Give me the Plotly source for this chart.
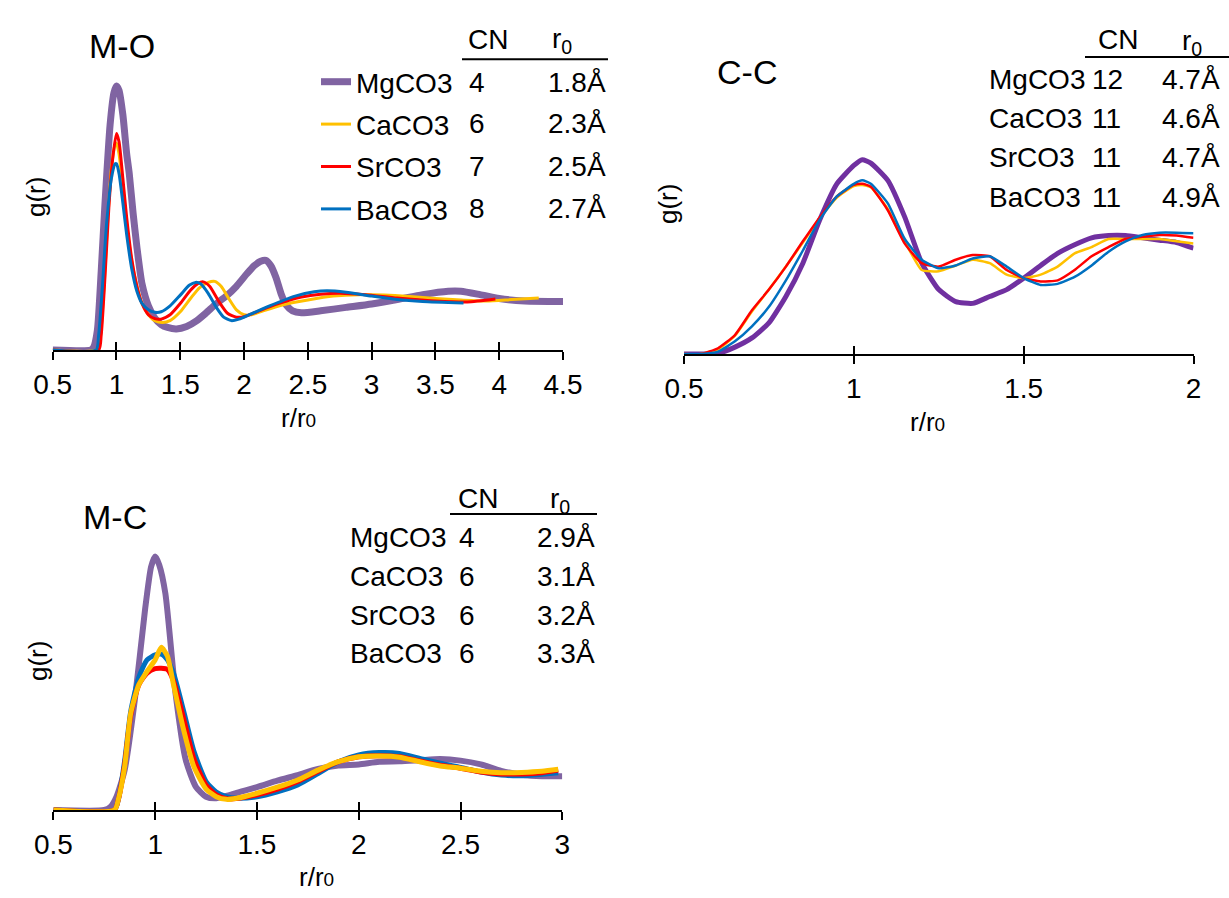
import plotly.graph_objects as go

W, H = 1229, 898
FONT = "Liberation Sans, Arial, sans-serif"

def px(x):
    return x / W

def py(y):
    return 1 - y / H

series = ["MgCO3", "CaCO3", "SrCO3", "BaCO3"]
colors = ["#8064A2", "#FFC000", "#FF0000", "#0070C0"]
cc_purple = "#7030A0"

# ---------------- M-O ----------------
mo_mg_r = [0.5, 0.8, 0.82, 0.85, 0.88, 0.91, 0.95, 0.98, 1.0, 1.02, 1.05, 1.08, 1.1, 1.13, 1.16, 1.2, 1.25, 1.3,
           1.35, 1.4, 1.47, 1.55, 1.63, 1.7, 1.78, 1.86, 1.94, 2.02, 2.08, 2.13, 2.17, 2.21, 2.25, 2.29, 2.33,
           2.38, 2.45, 2.6, 2.8, 3.0, 3.2, 3.4, 3.6, 3.7, 3.85, 4.0, 4.2, 4.5]
mo_mg_g = [0, 0, 0.05, 0.4, 1.6, 3.0, 4.6, 5.25, 5.39, 5.3, 4.8, 4.0, 3.6, 2.8, 2.1, 1.35, 0.9, 0.65,
           0.52, 0.46, 0.43, 0.48, 0.6, 0.75, 0.94, 1.1, 1.3, 1.55, 1.72, 1.81, 1.83, 1.72, 1.48, 1.15, 0.92,
           0.8, 0.76, 0.8, 0.87, 0.94, 1.03, 1.13, 1.2, 1.2, 1.13, 1.05, 1.0, 0.99]

mo_ca_r = [0.5, 0.84, 0.87, 0.9, 0.93, 0.96, 0.99, 1.0, 1.02, 1.05, 1.08, 1.12, 1.16, 1.2, 1.25, 1.3, 1.36,
           1.42, 1.5, 1.58, 1.65, 1.72, 1.77, 1.82, 1.88, 1.94, 2.0, 2.06, 2.15, 2.3, 2.5, 2.7, 2.9, 3.1,
           3.3, 3.5, 3.7, 3.9, 4.1, 4.31]
mo_ca_g = [0, 0, 0.2, 1.2, 2.6, 3.7, 4.2, 4.22, 4.0, 3.3, 2.55, 1.8, 1.3, 0.95, 0.72, 0.6, 0.56,
           0.6, 0.78, 1.05, 1.27, 1.38, 1.4, 1.3, 1.05, 0.82, 0.72, 0.72, 0.8, 0.92, 1.02, 1.1, 1.13, 1.12,
           1.09, 1.05, 1.02, 1.0, 1.03, 1.06]

mo_sr_r = [0.5, 0.86, 0.88, 0.91, 0.94, 0.97, 1.0, 1.02, 1.05, 1.08, 1.12, 1.16, 1.2, 1.25, 1.3, 1.35, 1.42,
           1.5, 1.58, 1.64, 1.68, 1.73, 1.8, 1.87, 1.94, 2.0, 2.1, 2.25, 2.45, 2.6, 2.75, 2.95, 3.2, 3.5,
           3.75, 3.97]
mo_sr_g = [0, 0, 0.3, 1.5, 2.9, 3.9, 4.42, 4.25, 3.5, 2.7, 1.85, 1.3, 0.95, 0.72, 0.64, 0.63, 0.72,
           0.95, 1.22, 1.36, 1.39, 1.3, 1.0, 0.75, 0.67, 0.68, 0.78, 0.93, 1.08, 1.14, 1.16, 1.13, 1.06, 1.0,
           0.98, 1.04]

mo_ba_r = [0.5, 0.84, 0.86, 0.89, 0.92, 0.96, 0.99, 1.0, 1.02, 1.05, 1.08, 1.12, 1.16, 1.2, 1.25, 1.3, 1.35,
           1.42, 1.5, 1.57, 1.62, 1.66, 1.72, 1.78, 1.84, 1.9, 1.96, 2.05, 2.2, 2.4, 2.55, 2.65, 2.8, 3.0,
           3.2, 3.4, 3.72]
mo_ba_g = [0, 0, 0.3, 1.3, 2.5, 3.5, 3.8, 3.8, 3.6, 3.0, 2.35, 1.65, 1.2, 0.95, 0.82, 0.77, 0.78,
           0.9, 1.12, 1.32, 1.38, 1.35, 1.15, 0.88, 0.67, 0.6, 0.63, 0.73, 0.9, 1.1, 1.19, 1.21, 1.18, 1.1,
           1.03, 0.99, 0.96]

mo_cn = ["4", "6", "7", "8"]
mo_r0 = ["1.8Å", "2.3Å", "2.5Å", "2.7Å"]

# ---------------- C-C ----------------
cc_r = [0.5, 0.55, 0.6, 0.65, 0.7, 0.75, 0.8, 0.85, 0.9, 0.95, 1.0, 1.025, 1.05, 1.1, 1.15, 1.2, 1.25, 1.3,
        1.35, 1.4, 1.45, 1.5, 1.55, 1.6, 1.65, 1.7, 1.75, 1.8, 1.85, 1.9, 1.95, 2.0]
cc_mg = [0, 0, 0.005, 0.06, 0.14, 0.27, 0.5, 0.79, 1.17, 1.48, 1.64, 1.69, 1.66, 1.51, 1.19, 0.79, 0.56, 0.455,
         0.44, 0.5, 0.56, 0.66, 0.77, 0.875, 0.95, 1.01, 1.03, 1.03, 1.01, 0.99, 0.97, 0.92]
cc_ca = [0, 0, 0.04, 0.16, 0.37, 0.56, 0.76, 0.97, 1.18, 1.36, 1.46, 1.47, 1.45, 1.26, 0.98, 0.73, 0.72, 0.77,
         0.82, 0.79, 0.69, 0.66, 0.69, 0.76, 0.875, 0.93, 1.0, 1.0, 1.0, 1.0, 0.98, 0.96]
cc_sr = [0, 0, 0.05, 0.165, 0.38, 0.56, 0.76, 0.98, 1.19, 1.37, 1.47, 1.48, 1.455, 1.25, 0.96, 0.79, 0.76, 0.82,
         0.86, 0.85, 0.73, 0.66, 0.63, 0.64, 0.73, 0.85, 0.93, 1.0, 1.02, 1.035, 1.03, 1.01]
cc_ba = [0, 0, 0.02, 0.11, 0.24, 0.41, 0.64, 0.9, 1.17, 1.37, 1.48, 1.51, 1.48, 1.31, 1.0, 0.82, 0.745, 0.77,
         0.83, 0.85, 0.76, 0.66, 0.6, 0.61, 0.67, 0.77, 0.89, 0.98, 1.035, 1.055, 1.055, 1.05]
cc_cn = ["12", "11", "11", "11"]
cc_r0 = ["4.7Å", "4.6Å", "4.7Å", "4.9Å"]

# ---------------- M-C ----------------
mc_mg_r = [0.5, 0.75, 0.78, 0.81, 0.85, 0.9, 0.95, 0.98, 1.0, 1.02, 1.05, 1.1, 1.15, 1.2, 1.25, 1.3, 1.35,
           1.4, 1.5, 1.6, 1.7, 1.8, 1.9, 2.0, 2.1, 2.2, 2.3, 2.4, 2.5, 2.6, 2.7, 2.8, 2.9, 3.0]
mc_mg_g = [0, 0, 0.08, 0.35, 1.05, 2.9, 5.26, 6.4, 6.67, 6.45, 5.7, 3.07, 1.32, 0.61, 0.35, 0.31, 0.37,
           0.45, 0.6, 0.77, 0.92, 1.08, 1.17, 1.2, 1.27, 1.28, 1.31, 1.34, 1.3, 1.2, 1.03, 0.93, 0.89, 0.89]

mc_r = [0.5, 0.8, 0.82, 0.85, 0.88, 0.92, 0.96, 1.0, 1.03, 1.06, 1.09, 1.14, 1.19, 1.25, 1.3, 1.35, 1.4,
        1.5, 1.6, 1.7, 1.8, 1.9, 2.0, 2.1, 2.2, 2.3, 2.4, 2.5, 2.6, 2.7, 2.8, 2.9, 2.98]
mc_ba = [0, 0, 0.3, 1.3, 2.6, 3.5, 3.95, 4.08, 4.1, 3.95, 3.6, 2.6, 1.55, 0.75, 0.47, 0.35, 0.31,
         0.35, 0.48, 0.66, 0.96, 1.27, 1.45, 1.51, 1.49, 1.36, 1.23, 1.12, 1.0, 0.92, 0.9, 0.94, 0.98]
mc_sr = [0, 0, 0.3, 1.2, 2.5, 3.3, 3.6, 3.72, 3.73, 3.7, 3.4, 2.4, 1.35, 0.65, 0.4, 0.3, 0.3,
         0.4, 0.55, 0.75, 1.02, 1.27, 1.4, 1.43, 1.4, 1.29, 1.18, 1.1, 1.0, 0.95, 0.95, 0.98, 1.05]
mc_ca = [0, 0, 0.3, 1.14, 2.55, 3.3, 3.65, 3.95, 4.28, 4.05, 3.3, 2.1, 1.14, 0.55, 0.35, 0.28, 0.31,
         0.44, 0.6, 0.79, 1.05, 1.27, 1.4, 1.42, 1.39, 1.27, 1.16, 1.1, 1.02, 0.98, 0.99, 1.02, 1.07]
mc_cn = ["4", "6", "6", "6"]
mc_r0 = ["2.9Å", "3.1Å", "3.2Å", "3.3Å"]

mo_ticks = [0.5, 1, 1.5, 2, 2.5, 3, 3.5, 4, 4.5]
cc_ticks = [0.5, 1, 1.5, 2]
mc_ticks = [0.5, 1, 1.5, 2, 2.5, 3]

def lab(v):
    return ("%g" % v)

fig = go.Figure()

# M-O traces (legend)
mo_data = [(mo_mg_r, mo_mg_g, 7), (mo_ca_r, mo_ca_g, 3), (mo_sr_r, mo_sr_g, 3), (mo_ba_r, mo_ba_g, 3)]
for i, (r, g, w) in enumerate(mo_data):
    fig.add_trace(go.Scatter(x=r, y=g, mode="lines", name=series[i], legendgroup=series[i],
                             line=dict(color=colors[i], width=w, shape="spline", smoothing=0.6),
                             xaxis="x", yaxis="y", showlegend=True))

# C-C traces
cc_data = [(cc_mg, cc_purple, 5), (cc_ca, colors[1], 2.5), (cc_sr, colors[2], 2.5), (cc_ba, colors[3], 2.5)]
for i, (g, c, w) in enumerate(cc_data):
    fig.add_trace(go.Scatter(x=cc_r, y=g, mode="lines", name=series[i], showlegend=False,
                             line=dict(color=c, width=w, shape="spline", smoothing=0.5),
                             xaxis="x2", yaxis="y2"))

# M-C traces (purple, blue, red, yellow on top)
mc_data = [(mc_mg_r, mc_mg_g, colors[0], 6), (mc_r, mc_ba, colors[3], 5),
           (mc_r, mc_sr, colors[2], 5), (mc_r, mc_ca, colors[1], 5)]
for (r, g, c, w) in mc_data:
    fig.add_trace(go.Scatter(x=r, y=g, mode="lines", showlegend=False,
                             line=dict(color=c, width=w, shape="spline", smoothing=0.6),
                             xaxis="x3", yaxis="y3"))

# empty traces to hold the overlay (inside-tick) axes
for xa, ya in [("x4", "y"), ("x5", "y2"), ("x6", "y3")]:
    fig.add_trace(go.Scatter(x=[None], y=[None], showlegend=False, xaxis=xa, yaxis=ya))

tick_font = dict(family=FONT, size=28, color="black")

def xax(domain, rng, ticks):
    return dict(domain=domain, range=rng, tickvals=ticks, ticktext=[lab(t) for t in ticks],
                showline=True, linecolor="black", linewidth=2, ticks="outside", ticklen=8,
                tickwidth=2, tickcolor="black", showgrid=False, zeroline=False, automargin=False,
                tickfont=tick_font, layer="below traces", fixedrange=True)

def xover(over, anchor, rng, ticks):
    return dict(overlaying=over, anchor=anchor, range=rng, tickvals=ticks, showticklabels=False,
                showline=False, ticks="inside", ticklen=8, tickwidth=2, tickcolor="black",
                showgrid=False, zeroline=False, layer="below traces", side="bottom", automargin=False)

def yax(domain, rng):
    return dict(domain=domain, range=rng, showline=False, showticklabels=False, showgrid=False,
                zeroline=False, ticks="", fixedrange=True, automargin=False)

fig.update_layout(
    template="none",
    width=W, height=H, margin=dict(l=0, r=0, t=0, b=0, pad=0, autoexpand=False),
    paper_bgcolor="white", plot_bgcolor="rgba(0,0,0,0)",
    font=dict(family=FONT, color="black"),
    xaxis=dict(xax([px(52.7), px(563)], [0.5, 4.5], mo_ticks), anchor="y"),
    yaxis=dict(yax([py(350), py(70)], [0, 280 / 49]), anchor="x"),
    xaxis2=dict(xax([px(684), px(1193.5)], [0.5, 2.0], cc_ticks), anchor="y2"),
    yaxis2=dict(yax([py(354), py(140)], [0, 214 / 115]), anchor="x2"),
    xaxis3=dict(xax([px(53.4), px(562.3)], [0.5, 3.0], mc_ticks), anchor="y3"),
    yaxis3=dict(yax([py(810), py(540)], [0, 270 / 38]), anchor="x3"),
    xaxis4=xover("x", "y", [0.5, 4.5], mo_ticks),
    xaxis5=xover("x2", "y2", [0.5, 2.0], cc_ticks),
    xaxis6=xover("x3", "y3", [0.5, 3.0], mc_ticks),
    legend=dict(x=px(316), y=py(57), xanchor="left", yanchor="top", bgcolor="rgba(0,0,0,0)",
                font=dict(family=FONT, size=28, color="black"), traceorder="grouped",
                tracegroupgap=3, borderwidth=0),
    showlegend=True,
)

ann = []

def text(x, y, s, size=28, xanchor="center", angle=0):
    ann.append(dict(x=px(x), y=py(y), xref="paper", yref="paper", text=s, showarrow=False,
                    xanchor=xanchor, yanchor="middle", textangle=angle,
                    font=dict(family=FONT, size=size, color="black")))

AX_TITLE = "r/r<span style='font-size:19px'>0</span>"
R0_HEAD = "r<sub>0</sub>"

# M-O texts
text(122, 46, "M-O", 34)
text(488, 39, "CN")
text(550, 41, R0_HEAD, xanchor="left")
for i, yy in enumerate([82, 124, 166, 209]):
    text(467, yy, mo_cn[i], xanchor="left")
    text(608, yy, mo_r0[i], xanchor="right")
text(36, 197, "g(r)", 26, angle=-90)
text(298, 418, AX_TITLE, 26)

# C-C texts
text(747, 72, "C-C", 34)
text(1118, 40, "CN")
text(1180, 42, R0_HEAD, xanchor="left")
for i, yy in enumerate([80, 119, 158, 197]):
    text(987, yy, series[i], xanchor="left")
    text(1090, yy, cc_cn[i], xanchor="left")
    text(1222, yy, cc_r0[i], xanchor="right")
text(668, 204, "g(r)", 26, angle=-90)
text(927, 422, AX_TITLE, 26)

# M-C texts
text(115, 517, "M-C", 34)
text(478, 498, "CN")
text(548, 500, R0_HEAD, xanchor="left")
for i, yy in enumerate([537, 576, 615, 653]):
    text(348, yy, series[i], xanchor="left")
    text(457, yy, mc_cn[i], xanchor="left")
    text(597, yy, mc_r0[i], xanchor="right")
text(38, 661, "g(r)", 26, angle=-90)
text(316, 877, AX_TITLE, 26)

fig.update_layout(annotations=ann)

shapes = []
for (x0, x1, yy) in [(462, 608, 59.3), (1085, 1229, 57), (450, 597, 514)]:
    shapes.append(dict(type="line", xref="paper", yref="paper", x0=px(x0), x1=px(x1), y0=py(yy), y1=py(yy),
                       line=dict(color="black", width=2)))
fig.update_layout(shapes=shapes)

fig.write_html("out.html")
